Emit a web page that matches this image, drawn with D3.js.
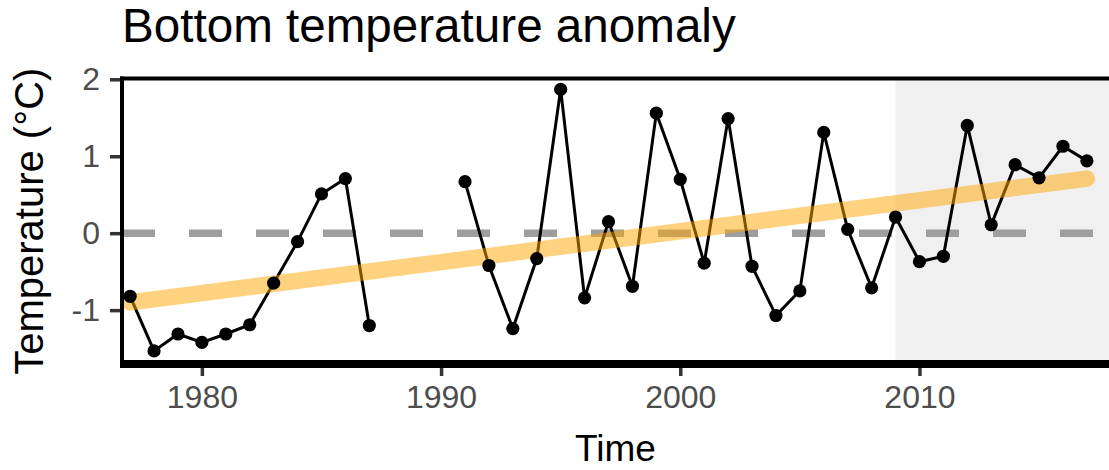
<!DOCTYPE html>
<html>
<head>
<meta charset="utf-8">
<script src="https://cdn.jsdelivr.net/npm/d3@7"></script>
<style>
  body { margin: 0; background: #fff; }
  svg { display: block; font-family: 'Liberation Sans', Arial, sans-serif; }
</style>
</head>
<body>
<svg width="1109" height="470"></svg>
<script>
// yearly bottom temperature anomaly, null = no survey
const years = [1977, 1978, 1979, 1980, 1981, 1982, 1983, 1984, 1985, 1986, 1987, 1988, 1989, 1990,
    1991, 1992, 1993, 1994, 1995, 1996, 1997, 1998, 1999, 2000, 2001, 2002, 2003, 2004,
    2005, 2006, 2007, 2008, 2009, 2010, 2011, 2012, 2013, 2014, 2015, 2016, 2017];
const anomaly = [-0.82, -1.53, -1.31, -1.42, -1.31, -1.19, -0.65, -0.11, 0.51, 0.71, -1.20, null, null, null,
    0.67, -0.42, -1.24, -0.33, 1.87, -0.84, 0.15, -0.69, 1.56, 0.70, -0.39, 1.49, -0.43, -1.07,
    -0.75, 1.31, 0.05, -0.71, 0.21, -0.37, -0.30, 1.40, 0.11, 0.89, 0.72, 1.13, 0.94];

// linear trend end points
const trendYears = [1977, 2017];
const trendValues = [-0.90, 0.71];

// shaded recent period
const shadeStart = 2009;

const xTicks = [1980, 1990, 2000, 2010];
const yTicks = [-1, 0, 1, 2];

const svg = d3.select('svg');
const width = +svg.attr('width');

const pLeft = 122, pTop = 78.5, pBottom = 364, pRight = 1112;

const x = d3.scaleLinear().domain([1976.66, 2018.05]).range([pLeft, pRight]);
const y = d3.scaleLinear().domain([-1.7, 2.0]).range([pBottom, 79.3]);

const data = years.map((yr, i) => ({year: yr, value: anomaly[i]}));

svg.append('clipPath').attr('id', 'panel')
    .append('rect')
    .attr('x', pLeft).attr('y', pTop)
    .attr('width', pRight - pLeft).attr('height', pBottom - pTop);

const panel = svg.append('g').attr('clip-path', 'url(#panel)');

panel.append('rect')
    .attr('x', x(shadeStart))
    .attr('y', pTop)
    .attr('width', pRight - x(shadeStart))
    .attr('height', pBottom - pTop)
    .attr('fill', '#f0f0f0');

// zero line
panel.append('line')
    .attr('x1', pLeft).attr('x2', pRight)
    .attr('y1', y(0)).attr('y2', y(0))
    .attr('stroke', '#9e9e9e')
    .attr('stroke-width', 7.5)
    .attr('stroke-dasharray', '33,34');

const line = d3.line()
    .defined(d => d.value !== null)
    .x(d => x(d.year))
    .y(d => y(d.value));

panel.append('path')
    .datum(data)
    .attr('d', line)
    .attr('fill', 'none')
    .attr('stroke', '#000')
    .attr('stroke-width', 3);

panel.append('path')
    .datum(trendYears.map((yr, i) => ({year: yr, value: trendValues[i]})))
    .attr('d', line)
    .attr('fill', 'none')
    .attr('stroke', 'orange')
    .attr('stroke-opacity', 0.5)
    .attr('stroke-width', 16.5)
    .attr('stroke-linecap', 'round');

panel.append('g')
    .selectAll('circle')
    .data(data.filter(d => d.value !== null))
    .enter().append('circle')
    .attr('cx', d => x(d.year))
    .attr('cy', d => y(d.value))
    .attr('r', 6.6)
    .attr('fill', '#000');

// panel border (left, top) and heavy bottom axis line
svg.append('line')
    .attr('x1', pLeft).attr('x2', pLeft)
    .attr('y1', pTop - 2).attr('y2', pBottom)
    .attr('stroke', '#000').attr('stroke-width', 4);
svg.append('line')
    .attr('x1', pLeft - 2).attr('x2', width)
    .attr('y1', pTop).attr('y2', pTop)
    .attr('stroke', '#000').attr('stroke-width', 4);
svg.append('line')
    .attr('x1', pLeft - 2).attr('x2', width)
    .attr('y1', pBottom).attr('y2', pBottom)
    .attr('stroke', '#000').attr('stroke-width', 8);

const xAxis = svg.append('g')
    .attr('transform', `translate(0,${pBottom + 4})`)
    .call(d3.axisBottom(x).tickValues(xTicks).tickFormat(d3.format('d')).tickSize(8).tickPadding(9));

const yAxis = svg.append('g')
    .attr('transform', `translate(${pLeft - 2},0)`)
    .call(d3.axisLeft(y).tickValues(yTicks).tickFormat(d => d < 0 ? '-' + Math.abs(d) : d).tickSize(10).tickPadding(10));

[xAxis, yAxis].forEach(ax => {
    ax.select('.domain').remove();
    ax.selectAll('.tick line').attr('stroke', '#333').attr('stroke-width', 3.5);
    ax.selectAll('.tick text')
        .attr('fill', '#4d4d4d')
        .style('font-size', '32px')
        .style('font-family', "'Liberation Sans', Arial, sans-serif");
});

svg.append('text')
    .attr('x', pLeft)
    .attr('y', 42)
    .attr('font-size', 47.6)
    .attr('fill', '#000')
    .text('Bottom temperature anomaly');

svg.append('text')
    .attr('x', (pLeft + width) / 2)
    .attr('y', 461)
    .attr('text-anchor', 'middle')
    .attr('font-size', 37)
    .attr('fill', '#000')
    .text('Time');

svg.append('text')
    .attr('transform', `translate(43,${(pTop + pBottom) / 2}) rotate(-90)`)
    .attr('text-anchor', 'middle')
    .attr('font-size', 40)
    .attr('fill', '#000')
    .text('Temperature (°C)');
</script>
</body>
</html>
